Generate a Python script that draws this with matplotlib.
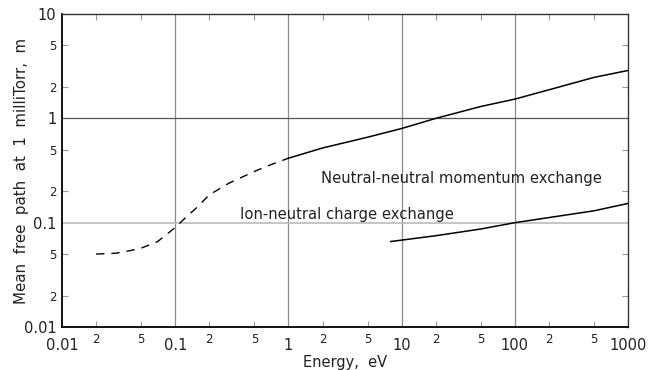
import matplotlib
matplotlib.use("Agg")
from matplotlib import pyplot as plt
from matplotlib.ticker import FixedLocator, FixedFormatter

# neutral-neutral momentum exchange (dashed part, then solid part)
nn_dash_energy = [0.02, 0.03, 0.04, 0.05, 0.07, 0.1, 0.13, 0.15, 0.2, 0.3, 0.5, 0.7, 1.0]
nn_dash_mfp = [0.050, 0.051, 0.054, 0.057, 0.066, 0.090, 0.118, 0.135, 0.185, 0.24, 0.31, 0.36, 0.415]
nn_solid_energy = [1.0, 2, 5, 10, 20, 50, 100, 200, 500, 1000]
nn_solid_mfp = [0.415, 0.52, 0.66, 0.80, 1.0, 1.30, 1.53, 1.88, 2.47, 2.88]

# ion-neutral charge exchange
in_energy = [8, 20, 50, 100, 200, 500, 1000]
in_mfp = [0.066, 0.075, 0.087, 0.100, 0.112, 0.13, 0.153]

x_major = [0.01, 0.1, 1, 10, 100, 1000]
x_major_labels = ['0.01', '0.1', '1', '10', '100', '1000']
y_major = [0.01, 0.1, 1, 10]
y_major_labels = ['0.01', '0.1', '1', '10']
x_minor = [0.02, 0.05, 0.2, 0.5, 2, 5, 20, 50, 200, 500]
x_minor_labels = ['2', '5'] * 5
y_minor = [0.02, 0.05, 0.2, 0.5, 2, 5]
y_minor_labels = ['2', '5'] * 3

fig = plt.figure(figsize=(6.57, 3.70), dpi=100)
ax = fig.add_axes([0.0944, 0.1162, 0.8616, 0.8458])
ax.set_xscale('log')
ax.set_yscale('log')
ax.set_xlim(0.01, 1000)
ax.set_ylim(0.01, 10)

for v in [0.1, 1, 10, 100]:
    ax.axvline(v, color='#8a8a8a', lw=0.9, zorder=1)
ax.axhline(1, color='#555555', lw=0.9, zorder=1)
ax.axhline(0.1, color='#bbbbbb', lw=1.2, zorder=1)

ax.plot(nn_dash_energy, nn_dash_mfp, color='black', lw=1.0, ls=(0, (6, 5)), zorder=3)
ax.plot(nn_solid_energy, nn_solid_mfp, color='black', lw=1.1, zorder=3)
ax.plot(in_energy, in_mfp, color='black', lw=1.1, zorder=3)

ax.text(1.92, 0.267, 'Neutral-neutral momentum exchange', fontsize=10.6,
        va='center', ha='left', color='#222222')
ax.text(0.374, 0.12, 'Ion-neutral charge exchange', fontsize=10.6,
        va='center', ha='left', color='#222222')

ax.xaxis.set_major_locator(FixedLocator(x_major))
ax.xaxis.set_major_formatter(FixedFormatter(x_major_labels))
ax.yaxis.set_major_locator(FixedLocator(y_major))
ax.yaxis.set_major_formatter(FixedFormatter(y_major_labels))
ax.xaxis.set_minor_locator(FixedLocator(x_minor))
ax.xaxis.set_minor_formatter(FixedFormatter(x_minor_labels))
ax.yaxis.set_minor_locator(FixedLocator(y_minor))
ax.yaxis.set_minor_formatter(FixedFormatter(y_minor_labels))

ax.tick_params(which='major', length=0, labelsize=10.5, colors='#222222')
ax.tick_params(axis='x', which='major', pad=8)
ax.tick_params(axis='y', which='major', pad=4)
ax.tick_params(which='minor', direction='in', length=4, width=0.8, color='#999999',
               top=True, right=True, labelsize=8.5, labelcolor='#222222')
ax.tick_params(axis='x', which='minor', pad=4)
ax.tick_params(axis='y', which='minor', pad=4)

for s in ['left', 'bottom']:
    ax.spines[s].set_linewidth(1.3)
    ax.spines[s].set_color('black')
for s in ['top', 'right']:
    ax.spines[s].set_linewidth(1.0)
    ax.spines[s].set_color('#333333')

ax.set_xlabel('Energy,  eV', fontsize=10.5, color='#222222', labelpad=1)
ax.set_ylabel('Mean  free  path  at  1  milliTorr,  m', fontsize=10.8, color='#222222',
              va='center')
ax.yaxis.set_label_coords(-0.072, 0.5)

fig.savefig('out.png', dpi=100)
